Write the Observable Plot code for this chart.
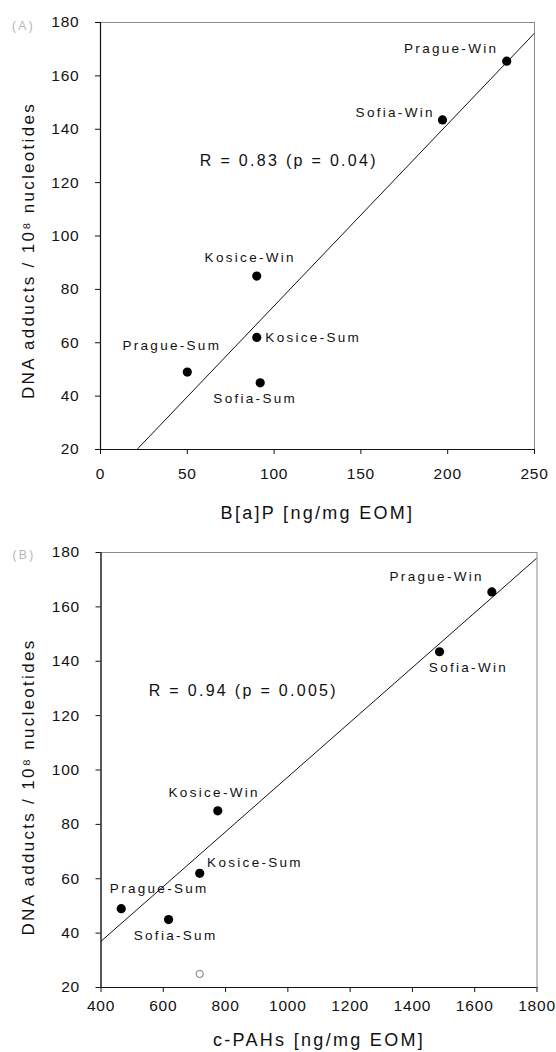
<!DOCTYPE html>
<html>
<head>
<meta charset="utf-8">
<script src="https://cdn.jsdelivr.net/npm/d3@7"></script>
<script src="https://cdn.jsdelivr.net/npm/@observablehq/plot@0.6"></script>
<style>
  html, body { margin: 0; padding: 0; background: #fff; }
  #chart svg { display: block; }
  #chart g[aria-label="text"] text { letter-spacing: 2.3px; }
  #chart g[aria-label="y-axis tick label"] text,
  #chart g[aria-label="x-axis tick label"] text { letter-spacing: 0.8px; }
</style>
</head>
<body>
<div id="chart"></div>
<script>
// ---- data ----
const sites = ["Prague-Win", "Sofia-Win", "Kosice-Win", "Kosice-Sum", "Prague-Sum", "Sofia-Sum"];
const adducts = [165.5, 143.5, 85, 62, 49, 45];          // DNA adducts / 10^8 nucleotides
const bap = [234, 197, 90, 90, 50, 92];                  // B[a]P ng/mg EOM
const cpah = [1655, 1487, 775, 717, 465, 617];           // c-PAHs ng/mg EOM
const openX = [717];                                     // open circle, panel B
const openY = [25];
const fitAx = [21, 250];                                 // regression line A (data units)
const fitAy = [20, 176];
const fitBx = [400, 1800];                               // regression line B (data units)
const fitBy = [37, 178];
const xTicksA = [0, 50, 100, 150, 200, 250];
const xTicksB = [400, 600, 800, 1000, 1200, 1400, 1600, 1800];
const yTicks = [20, 40, 60, 80, 100, 120, 140, 160, 180];
const statA = "R = 0.83 (p = 0.04)";
const statB = "R = 0.94 (p = 0.005)";
const statPosA = [108.5, 128];
const statPosB = [857, 129];
const yLabel = "DNA adducts / 10\u2078 nucleotides";
const xLabelA = "B[a]P [ng/mg EOM]";
const xLabelB = "c-PAHs [ng/mg EOM]";

// ---- label placement (style, not data) ----
const placeA = {
  "Prague-Win": ["end", -8.4, -12.5],
  "Sofia-Win": ["end", -7.7, -7],
  "Kosice-Win": ["middle", -6.5, -18.5],
  "Kosice-Sum": ["start", 8.6, 0],
  "Prague-Sum": ["middle", -15.5, -26],
  "Sofia-Sum": ["middle", -5, 16]
};
const placeB = {
  "Prague-Win": ["end", -8, -15.5],
  "Sofia-Win": ["start", -10.7, 15.5],
  "Kosice-Win": ["middle", -3.6, -18],
  "Kosice-Sum": ["start", 7.4, -10.5],
  "Prague-Sum": ["start", -11.4, -20],
  "Sofia-Sum": ["middle", 7, 16]
};

const font = "'Liberation Sans', Arial, Helvetica, sans-serif";
const idx = d3.range(sites.length);

function panel(cfg) {
  const labelMarks = idx.map(i => {
    const [anchor, dx, dy] = cfg.place[sites[i]];
    return Plot.text([i], {
      x: j => cfg.xs[j], y: j => adducts[j], text: j => sites[j],
      textAnchor: anchor, dx, dy, fontSize: 13.5, fill: "#111"
    });
  });
  const fitIdx = [0, 1];
  return Plot.plot({
    width: 556,
    height: 526,
    marginTop: cfg.mt,
    marginBottom: cfg.mb,
    marginLeft: cfg.ml,
    marginRight: cfg.mr,
    style: { fontFamily: font, background: "#fff", color: "#111" },
    x: { domain: cfg.xDomain },
    y: { domain: [20, 180] },
    marks: [
      Plot.frame({ stroke: "#8a8a8a", strokeWidth: 1 }),
      Plot.ruleX([cfg.xDomain[0]], { stroke: "#111", strokeWidth: 1.2 }),
      Plot.ruleY([20], { stroke: "#111", strokeWidth: 1.2 }),
      Plot.axisY({ ticks: yTicks, tickSize: 5, tickPadding: 16, fontSize: 15.5, label: null, tickFormat: d => String(d) }),
      Plot.axisX({ ticks: cfg.xTicks, tickSize: 5, tickPadding: cfg.xtp, fontSize: 15.5, label: null, tickFormat: d => String(d) }),
      Plot.line(fitIdx, { x: j => cfg.fx[j], y: j => cfg.fy[j], stroke: "#111", strokeWidth: 1, clip: true }),
      Plot.dot(idx, { x: j => cfg.xs[j], y: j => adducts[j], r: 4.6, fill: "#000", stroke: "none" }),
      ...(cfg.open ? [Plot.dot(d3.range(openX.length), { x: j => openX[j], y: j => openY[j], r: 3.6, fill: "#fff", stroke: "#777", strokeWidth: 1 })] : []),
      ...labelMarks,
      Plot.text([cfg.stat], { x: () => cfg.statPos[0], y: () => cfg.statPos[1], text: d => d, fontSize: 16, fill: "#111" }),
      Plot.text([yLabel], { frameAnchor: "left", textAnchor: "middle", lineAnchor: "middle", text: d => d, rotate: -90, dx: -72, dy: cfg.yLabelDy, fontSize: 17, fill: "#111" }),
      Plot.text([cfg.xLabel], { frameAnchor: "bottom", textAnchor: "middle", lineAnchor: "middle", text: d => d, dy: cfg.xLabelDy, fontSize: 18, fill: "#111" }),
      Plot.text([cfg.tag], { frameAnchor: "top-left", textAnchor: "middle", lineAnchor: "middle", text: d => d, dx: -77, dy: cfg.tagDy, fontSize: 12, fill: "#b5b5b5" })
    ]
  });
}

const chart = document.getElementById("chart");
chart.appendChild(panel({
  xs: bap, xDomain: [0, 250], xTicks: xTicksA, fx: fitAx, fy: fitAy,
  place: placeA, stat: statA, statPos: statPosA, xLabel: xLabelA, tag: "(A)",
  mt: 22, mb: 77, ml: 100, mr: 22, xtp: 13, yLabelDy: 14.5, xLabelDy: 63.5, tagDy: 4, open: false
}));
chart.appendChild(panel({
  xs: cpah, xDomain: [400, 1800], xTicks: xTicksB, fx: fitBx, fy: fitBy,
  place: placeB, stat: statB, statPos: statPosB, xLabel: xLabelB, tag: "(B)",
  mt: 26, mb: 65, ml: 100.5, mr: 19.5, xtp: 7, yLabelDy: 17, xLabelDy: 52.7, tagDy: 2.5, open: true
}));
</script>
</body>
</html>
